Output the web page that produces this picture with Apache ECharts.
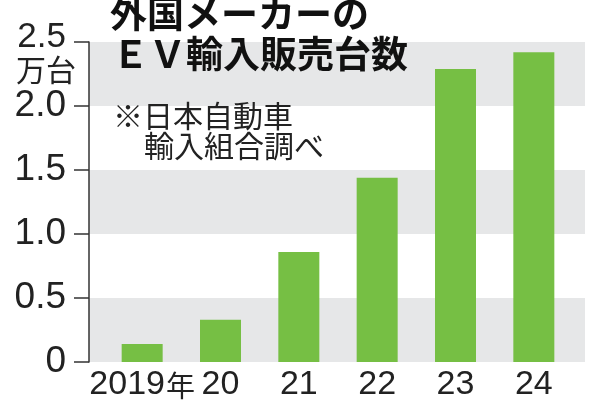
<!DOCTYPE html>
<html>
<head>
<meta charset="utf-8">
<script src="https://cdn.jsdelivr.net/npm/echarts@6/dist/echarts.min.js"></script>
<style>
  html, body { margin: 0; padding: 0; background: #fff; }
  #chart { width: 600px; height: 400px; }
</style>
</head>
<body>
<div id="chart"></div>
<script>
// 年別データ
const years = ["2019年", "20", "21", "22", "23", "24"];
const sales = [0.14, 0.33, 0.86, 1.44, 2.29, 2.42];
const yTicks = [0, 0.5, 1.0, 1.5, 2.0, 2.5];

const cjk = '"Noto Sans CJK JP", sans-serif';
const latin = '"Liberation Sans", sans-serif';
const green = "#76bf44";
const band = "#e6e7e8";
const ink = "#222";

const myChart = echarts.init(document.getElementById("chart"));

const option = {
  animation: false,
  backgroundColor: "#fff",
  grid: [
    // 背景の帯とY軸
    { left: 89, right: 15, top: 42, bottom: 38, outerBoundsMode: "none" },
    // 棒
    { left: 103, right: 27, top: 42, bottom: 38, outerBoundsMode: "none" },
  ],
  xAxis: [
    { gridIndex: 0, type: "value", min: 0, max: 1, show: false },
    {
      gridIndex: 1,
      type: "category",
      data: years,
      axisLine: { show: false },
      axisTick: { show: false },
      axisLabel: {
        interval: 0,
        hideOverlap: false,
        margin: 6,
        color: ink,
        fontFamily: latin,
        fontSize: 34,
        formatter: (v) => {
          const m = v.match(/^(\d+)(年?)$/);
          return m[2] ? `{n|${m[1]}}{y|${m[2]}}` : `{n|${m[1]}}`;
        },
        rich: {
          n: { fontSize: 34, color: ink, fontFamily: latin },
          y: { fontSize: 29, color: ink, fontFamily: cjk, padding: [1, 0, 0, 1] },
        },
      },
    },
  ],
  yAxis: [
    {
      gridIndex: 0,
      type: "value",
      min: yTicks[0],
      max: yTicks[yTicks.length - 1],
      interval: 0.5,
      axisLine: { show: true, lineStyle: { color: "#333", width: 1.5 } },
      axisTick: { show: true, length: 15, lineStyle: { color: "#333", width: 1.5 } },
      splitLine: { show: false },
      splitArea: { show: true, areaStyle: { color: [band, "#ffffff"] } },
      axisLabel: {
        margin: 23,
        color: ink,
        fontFamily: latin,
        fontSize: 37,
        formatter: (v) => {
          if (v === 0) return "0";
          if (v === 2.5) return "{s|2.5}";
          return v.toFixed(1);
        },
        rich: {
          s: { fontSize: 35, color: ink, fontFamily: latin, padding: [0, 0, 10, 0] },
        },
      },
    },
    { gridIndex: 1, type: "value", min: 0, max: 2.5, show: false },
  ],
  series: [
    {
      type: "bar",
      xAxisIndex: 1,
      yAxisIndex: 1,
      data: sales,
      barWidth: 41,
      itemStyle: { color: green },
      z: 3,
    },
  ],
  graphic: [
    {
      type: "text", left: 16, top: 55, z: 10,
      style: { text: "万台", font: `30px ${cjk}`, fill: ink },
    },
    {
      type: "text", left: 110, top: -5, z: 10,
      style: { text: "外国メーカーの", font: `bold 37px ${cjk}`, fill: "#111" },
    },
    {
      type: "text", left: 112, top: 35, z: 10,
      style: { text: "ＥＶ輸入販売台数", font: `bold 37px ${cjk}`, fill: "#111" },
    },
    {
      type: "text", left: 113, top: 101, z: 10,
      style: { text: "※日本自動車", font: `30px ${cjk}`, fill: ink },
    },
    {
      type: "text", left: 144, top: 131, z: 10,
      style: { text: "輸入組合調べ", font: `30px ${cjk}`, fill: ink },
    },
  ],
};

option && myChart.setOption(option);
</script>
</body>
</html>
